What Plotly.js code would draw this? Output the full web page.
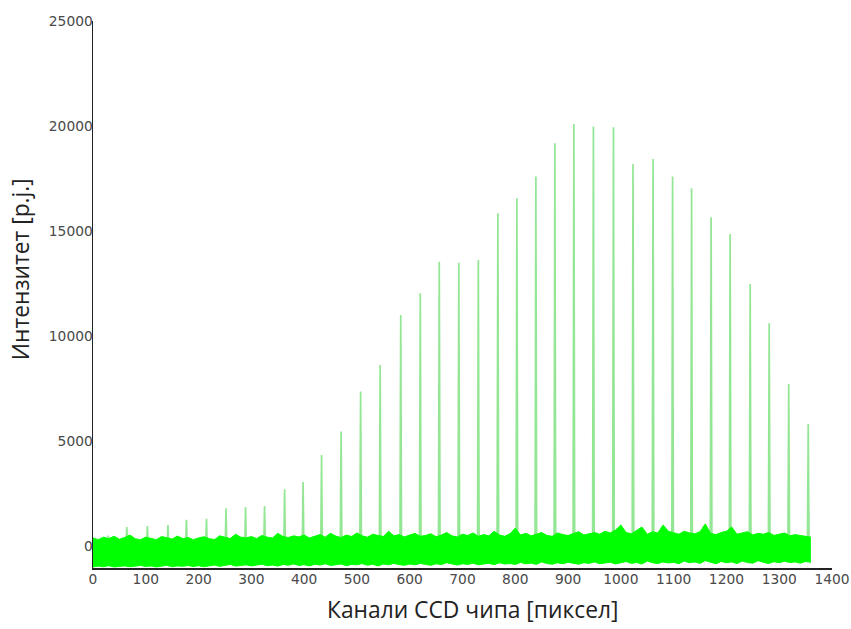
<!DOCTYPE html>
<html>
<head>
<meta charset="utf-8">
<script src="https://cdn.plot.ly/plotly-3.0.1.min.js"></script>
<style>
  html, body { margin: 0; padding: 0; background: #fff; }
  #chart { width: 851px; height: 629px; }
</style>
</head>
<body>
<div id="chart"></div>
<script>
// Emission line positions along the CCD (pixel channel) and their peak intensities
const peakChannels = [29, 64, 103, 142, 177, 215, 252, 289, 325, 363, 398, 433, 470, 507,
  544, 583, 620, 656, 693, 730, 767, 803, 839, 875, 911, 948, 986, 1023, 1061, 1098,
  1134, 1171, 1207, 1245, 1281, 1318, 1355];
const peakIntensity = [500, 900, 950, 1000, 1250, 1300, 1800, 1850, 1900, 2700, 3050, 4330,
  5450, 7350, 8620, 11000, 12030, 13540, 13490, 13620, 15840, 16560, 17590, 19180, 20100,
  19970, 19940, 18190, 18430, 17590, 17030, 15650, 14860, 12480, 10600, 7710, 5810];

// Readout noise band: channel grid with the upper and lower envelopes of the noise
const bandChannels = [
  0, 10, 20, 30, 40, 50, 60, 70, 80, 90,
  100, 110, 120, 130, 140, 150, 160, 170, 180, 190,
  200, 210, 220, 230, 240, 250, 260, 270, 280, 290,
  300, 310, 320, 330, 340, 350, 360, 370, 380, 390,
  400, 410, 420, 430, 440, 450, 460, 470, 480, 490,
  500, 510, 520, 530, 540, 550, 560, 570, 580, 590,
  600, 610, 620, 630, 640, 650, 660, 670, 680, 690,
  700, 710, 720, 730, 740, 750, 760, 770, 780, 790,
  800, 810, 820, 830, 840, 850, 860, 870, 880, 890,
  900, 910, 920, 930, 940, 950, 960, 970, 980, 990,
  1000, 1010, 1020, 1030, 1040, 1050, 1060, 1070, 1080, 1090,
  1100, 1110, 1120, 1130, 1140, 1150, 1160, 1170, 1180, 1190,
  1200, 1210, 1220, 1230, 1240, 1250, 1260, 1270, 1280, 1290,
  1300, 1310, 1320, 1330, 1340, 1350, 1360];
const bandUpper = [
  380, 300, 420, 350, 460, 320, 400, 520, 340, 300,
  420, 360, 300, 450, 380, 330, 470, 350, 400, 300,
  380, 440, 350, 300, 480, 400, 350, 560, 420, 380,
  450, 350, 500, 420, 380, 600, 450, 400, 480, 430,
  520, 380, 460, 540, 420, 600, 470, 400, 520, 450,
  620, 480, 420, 560, 500, 450, 700, 480, 540, 430,
  520, 600, 460, 500, 580, 440, 520, 640, 480, 430,
  560, 500, 620, 460, 540, 480, 700, 520, 460, 580,
  850, 520, 600, 480, 560, 640, 500, 460, 620, 540,
  500, 600, 680, 520, 580, 640, 560, 700, 620, 760,
  1000, 640, 580, 720, 900, 560, 680, 620, 1000, 700,
  640, 560, 700, 620, 580, 680, 1050, 600, 540, 640,
  700, 900, 560, 620, 680, 520, 600, 560, 640, 500,
  560, 620, 480, 540, 500, 460, 420];
const bandLower = [
  -1000, -960, -990, -940, -1000, -970, -950, -990, -960, -930,
  -980, -950, -1000, -960, -920, -990, -950, -970, -930, -980,
  -940, -990, -960, -910, -970, -940, -880, -960, -930, -900,
  -950, -900, -870, -940, -910, -960, -880, -920, -860, -930,
  -890, -950, -870, -910, -850, -930, -900, -860, -940, -880,
  -900, -840, -920, -870, -950, -860, -900, -830, -890, -920,
  -860, -900, -830, -880, -920, -850, -890, -800, -870, -910,
  -850, -880, -820, -900, -860, -830, -890, -800, -860, -840,
  -880, -790, -850, -820, -880, -760, -840, -870, -800, -850,
  -780, -840, -870, -800, -830, -760, -850, -810, -780, -860,
  -800, -740, -830, -790, -860, -720, -800, -840, -760, -810,
  -780, -850, -720, -800, -760, -830, -700, -790, -850, -740,
  -800, -760, -840, -720, -790, -820, -700, -780, -840, -750,
  -800, -730, -790, -760, -820, -740, -780];

const yTicks = [0, 5000, 10000, 15000, 20000, 25000];
const xTicks = [0, 100, 200, 300, 400, 500, 600, 700, 800, 900, 1000, 1100, 1200, 1300, 1400];

// Each emission line is drawn as a narrow spike rising from the baseline
const spikeHalfWidth = 1.5;
const spikeX = [], spikeY = [];
peakChannels.forEach((c, i) => {
  spikeX.push(c - spikeHalfWidth, c, c + spikeHalfWidth, null);
  spikeY.push(0, peakIntensity[i], 0, null);
});

const traces = [
  {
    x: spikeX, y: spikeY, type: 'scatter', mode: 'lines',
    line: { color: 'rgba(40,205,40,0.5)', width: 1.7 },
    hoverinfo: 'skip', showlegend: false
  },
  {
    x: bandChannels, y: bandLower, type: 'scatter', mode: 'lines',
    line: { color: '#00ff00', width: 1 },
    hoverinfo: 'skip', showlegend: false
  },
  {
    x: bandChannels, y: bandUpper, type: 'scatter', mode: 'lines',
    fill: 'tonexty', fillcolor: '#00ff00',
    line: { color: '#00ff00', width: 1 },
    hoverinfo: 'skip', showlegend: false
  }
];

const tickFont = { family: 'DejaVu Sans, sans-serif', size: 13.8, color: '#4a4a4a' };
const titleFont = { family: 'Open Sans, sans-serif', size: 22.8, color: '#222' };

const layout = {
  width: 851, height: 629,
  margin: { l: 93, r: 19, t: 21, b: 61 },
  paper_bgcolor: '#fff', plot_bgcolor: '#fff',
  showlegend: false,
  xaxis: {
    range: [0, 1400], tickvals: xTicks, ticktext: xTicks.map(String),
    showgrid: false, zeroline: false, showline: true, linecolor: '#222', linewidth: 1.5,
    ticks: '', tickfont: tickFont, ticklabelstandoff: -2
  },
  yaxis: {
    range: [-1050, 25000], tickvals: yTicks, ticktext: yTicks.map(String),
    showgrid: false, zeroline: false, showline: true, linecolor: '#222', linewidth: 1.5,
    ticks: '', tickfont: tickFont, ticklabelstandoff: -4
  },
  annotations: [
    {
      text: 'Интензитет [p.j.]', xref: 'paper', yref: 'paper',
      x: -0.0985, y: 0.5466, xanchor: 'center', yanchor: 'middle',
      textangle: -90, showarrow: false, font: titleFont
    },
    {
      text: 'Канали CCD чипа [пиксел]', xref: 'paper', yref: 'paper',
      x: 0.5142, y: -0.075, xanchor: 'center', yanchor: 'middle',
      showarrow: false, font: titleFont
    }
  ]
};

Plotly.newPlot('chart', traces, layout, { staticPlot: true, displayModeBar: false });
</script>
</body>
</html>
